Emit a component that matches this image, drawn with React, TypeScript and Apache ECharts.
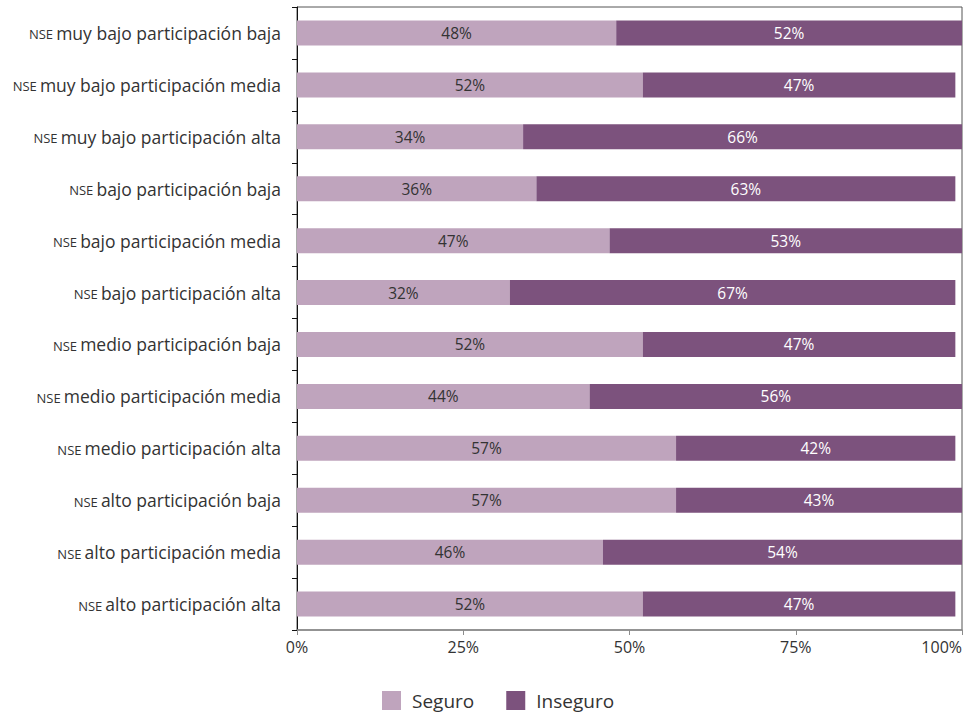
import React, { useEffect, useRef } from "react";
import * as echarts from "echarts";

const categories = [
  "muy bajo participación baja",
  "muy bajo participación media",
  "muy bajo participación alta",
  "bajo participación baja",
  "bajo participación media",
  "bajo participación alta",
  "medio participación baja",
  "medio participación media",
  "medio participación alta",
  "alto participación baja",
  "alto participación media",
  "alto participación alta",
];
const seguro = [48, 52, 34, 36, 47, 32, 52, 44, 57, 57, 46, 52];
const inseguro = [52, 47, 66, 63, 53, 67, 47, 56, 42, 43, 54, 47];
const seriesNames = ["Seguro", "Inseguro"];
const tickValues = [0, 25, 50, 75, 100];

const FONT = "'Open Sans', 'Noto Sans', sans-serif";

export default function App() {
  const ref = useRef<HTMLDivElement>(null);
  useEffect(() => {
    if (!ref.current) return;
    const chart = echarts.init(ref.current, null, { renderer: "svg" });
    chart.setOption({
      animation: false,
      textStyle: { fontFamily: FONT },
      grid: {
        left: 297,
        right: 6,
        top: 7,
        bottom: 85,
        show: true,
        borderColor: "#555",
        borderWidth: 1,
        containLabel: false,
        outerBoundsMode: "none",
      },
      legend: {
        bottom: 0,
        left: 377,
        itemWidth: 19,
        itemHeight: 19,
        itemGap: 32,
        icon: "rect",
        data: seriesNames,
        textStyle: { fontSize: 19, color: "#333", fontFamily: FONT, padding: [0, 0, 0, 6] },
      },
      xAxis: {
        type: "value",
        min: tickValues[0],
        max: tickValues[tickValues.length - 1],
        interval: 25,
        splitLine: { show: false },
        axisLine: { show: true, lineStyle: { color: "#8c8c8c", width: 1.5 } },
        axisTick: { show: true, length: 5, lineStyle: { color: "#8c8c8c" } },
        axisLabel: {
          formatter: "{value}%",
          fontSize: 16,
          color: "#333",
          margin: 9,
          fontFamily: FONT,
          alignMaxLabel: "right",
        },
      },
      yAxis: {
        type: "category",
        inverse: true,
        data: categories,
        axisLine: { show: true, lineStyle: { color: "#111", width: 1 } },
        axisTick: { show: true, length: 5, lineStyle: { color: "#111" } },
        axisLabel: {
          margin: 16,
          formatter: (v: string) => `{s|NSE} {m|${v}}`,
          rich: {
            s: { fontSize: 13, color: "#333", fontFamily: FONT, padding: [3, 0, 0, 0] },
            m: { fontSize: 17.5, color: "#333", fontFamily: FONT },
          },
        },
      },
      series: [
        {
          name: seriesNames[0],
          type: "bar",
          stack: "total",
          barWidth: 25,
          data: seguro,
          itemStyle: { color: "#BFA4BD" },
          label: {
            show: true,
            position: "inside",
            formatter: "{c}%",
            color: "#333",
            fontSize: 15.5,
            fontFamily: FONT,
          },
        },
        {
          name: seriesNames[1],
          type: "bar",
          stack: "total",
          barWidth: 25,
          data: inseguro,
          itemStyle: { color: "#7C527D" },
          label: {
            show: true,
            position: "inside",
            formatter: "{c}%",
            color: "#fff",
            fontSize: 15.5,
            fontFamily: FONT,
          },
        },
      ],
    });
    return () => chart.dispose();
  }, []);
  return (
    <div
      ref={ref}
      style={{ position: "fixed", left: 0, top: 0, width: 968, height: 715, background: "#fff" }}
    />
  );
}
